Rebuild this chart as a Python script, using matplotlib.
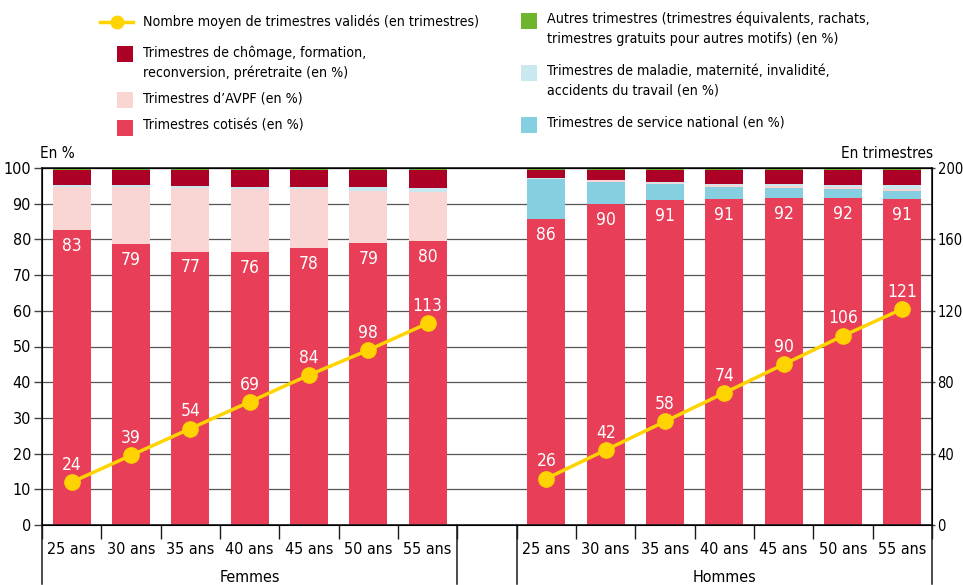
import matplotlib
matplotlib.use("Agg")
import matplotlib.pyplot as plt
import numpy as np
from matplotlib.lines import Line2D
from matplotlib.patches import Rectangle
from matplotlib.transforms import blended_transform_factory

plt.rcParams["font.family"] = ["DejaVu Sans"]
plt.rcParams["font.stretch"] = "condensed"

ages = ["25 ans", "30 ans", "35 ans", "40 ans", "45 ans", "50 ans", "55 ans"]
groups = ["Femmes", "Hommes"]

# parts in % (bottom to top)
f_cotises = [82.6, 78.6, 76.6, 76.4, 77.6, 78.9, 79.6]
f_service = [0.0, 0.0, 0.0, 0.0, 0.0, 0.0, 0.0]
f_avpf = [12.1, 16.1, 17.8, 17.6, 16.4, 14.6, 13.8]
f_maladie = [0.5, 0.5, 0.6, 0.7, 0.7, 1.2, 1.0]
f_chomage = [4.3, 4.3, 4.5, 4.8, 4.8, 4.8, 5.1]
f_autres = [0.5, 0.5, 0.5, 0.5, 0.5, 0.5, 0.5]

h_cotises = [85.6, 89.8, 90.9, 91.2, 91.6, 91.6, 91.2]
h_service = [11.3, 6.3, 4.6, 3.5, 2.8, 2.5, 2.3]
h_avpf = [0.0, 0.5, 0.3, 0.4, 0.5, 0.6, 0.6]
h_maladie = [0.3, 0.0, 0.3, 0.4, 0.6, 0.5, 1.1]
h_chomage = [2.3, 2.9, 3.4, 4.0, 4.0, 4.3, 4.3]
h_autres = [0.5, 0.5, 0.5, 0.5, 0.5, 0.5, 0.5]

# mean number of validated quarters
f_trim = [24, 39, 54, 69, 84, 98, 113]
h_trim = [26, 42, 58, 74, 90, 106, 121]

C_COT, C_SN, C_AVPF = "#E83E57", "#86CFE1", "#F9D6D3"
C_MAL, C_CHO, C_AUT = "#C9E8F0", "#AD0027", "#6DB52D"
C_LINE = "#FFD300"

W, H = 963, 585
fig = plt.figure(figsize=(W / 100, H / 100), dpi=100)
ax = fig.add_axes([42 / W, 1 - 525 / H, (932 - 42) / W, (525 - 168) / H])
ax2 = ax.twinx()

xf = np.arange(7)
xh = np.arange(7) + 8
bw = 0.64

series_f = [f_cotises, f_service, f_avpf, f_maladie, f_chomage, f_autres]
series_h = [h_cotises, h_service, h_avpf, h_maladie, h_chomage, h_autres]
colors = [C_COT, C_SN, C_AVPF, C_MAL, C_CHO, C_AUT]

for x, series in [(xf, series_f), (xh, series_h)]:
    bottom = np.zeros(7)
    for vals, c in zip(series, colors):
        ax.bar(x, vals, bw, bottom=bottom, color=c, zorder=2, linewidth=0)
        bottom += np.array(vals)
    for xi, v in zip(x, series[0]):
        ax.annotate(f"{v:.0f}", (xi, v), xytext=(0, -5), textcoords="offset points",
                    ha="center", va="top", color="white", fontsize=12.5, zorder=4)

ax.set_xlim(-0.5, 14.5)
ax.set_ylim(0, 100)
ax.set_yticks(range(0, 101, 10))
ax.tick_params(axis="y", labelsize=11.5, length=6, width=1, color="#444444", pad=2)
ax.grid(axis="y", color="#555555", linewidth=0.9, zorder=0)
ax.set_axisbelow(True)
for s in ["left", "right", "top", "bottom"]:
    ax.spines[s].set_color("#1a1a1a")
    ax.spines[s].set_linewidth(1.2)

ax.set_xticks(list(xf) + list(xh))
ax.set_xticklabels(ages + ages, fontsize=11.5)
ax.tick_params(axis="x", length=0, pad=12)
ax.set_xticks(np.arange(-0.5, 15, 1), minor=True)
ax.tick_params(axis="x", which="minor", length=10, width=1, color="#1a1a1a")

tr = blended_transform_factory(ax.transData, ax.transAxes)
for xb in [-0.5, 6.5, 7.5, 14.5]:
    ax.plot([xb, xb], [0, -0.165], transform=tr, color="#1a1a1a", lw=1.1, clip_on=False)
ax.text(3, -0.148, groups[0], transform=tr, ha="center", va="center", fontsize=11.5)
ax.text(11, -0.148, groups[1], transform=tr, ha="center", va="center", fontsize=11.5)

ax2.set_ylim(0, 200)
ax2.set_yticks(range(0, 201, 40))
ax2.tick_params(axis="y", labelsize=10.5, length=2.5, width=1, color="#444444", pad=1.5)
for xs, ys in [(xf, f_trim), (xh, h_trim)]:
    ax2.plot(xs, ys, color=C_LINE, lw=2.5, marker="o", markersize=11,
             markerfacecolor=C_LINE, markeredgecolor=C_LINE, zorder=3)
    for xi, v in zip(xs, ys):
        ax2.annotate(f"{v}", (xi, v), xytext=(0, 6), textcoords="offset points",
                     ha="center", va="bottom", color="white", fontsize=12.5)

fig.text(40 / W, 1 - 153 / H, "En %", fontsize=11, ha="left", va="center")
fig.text(933 / W, 1 - 153 / H, "En trimestres", fontsize=11, ha="right", va="center")


# legend drawn by hand, positions in pixels
def fx(px):
    return px / W


def fy(py):
    return 1 - py / H


def square(x, y, c):
    fig.add_artist(Rectangle((fx(x), fy(y + 16)), 16 / W, 16 / H, facecolor=c,
                             edgecolor="none", transform=fig.transFigure))


fig.add_artist(Line2D([fx(100), fx(133)], [fy(22), fy(22)], color=C_LINE, lw=2.5,
                      transform=fig.transFigure))
fig.add_artist(Line2D([fx(116.5)], [fy(22)], marker="o", markersize=9, color=C_LINE,
                      transform=fig.transFigure))
legend_items = [
    (None, 22, "Nombre moyen de trimestres validés (en trimestres)", 143),
    (C_CHO, 46, "Trimestres de chômage, formation,\nreconversion, préretraite (en %)", 143),
    (C_AVPF, 92, "Trimestres d\u2019AVPF (en %)", 143),
    (C_COT, 120, "Trimestres cotisés (en %)", 143),
    (C_AUT, 13, "Autres trimestres (trimestres équivalents, rachats,\n"
                "trimestres gratuits pour autres motifs) (en %)", 547),
    (C_MAL, 65, "Trimestres de maladie, maternité, invalidité,\naccidents du travail (en %)", 547),
    (C_SN, 117, "Trimestres de service national (en %)", 547),
]
for c, y, label, tx in legend_items:
    if c is None:
        fig.text(fx(tx), fy(y), label, fontsize=10.2, ha="left", va="center")
        continue
    square(tx - 26, y, c)
    fig.text(fx(tx), fy(y - 1), label, fontsize=10.2, ha="left", va="top",
             linespacing=1.5)

fig.savefig("out.png", dpi=100)
